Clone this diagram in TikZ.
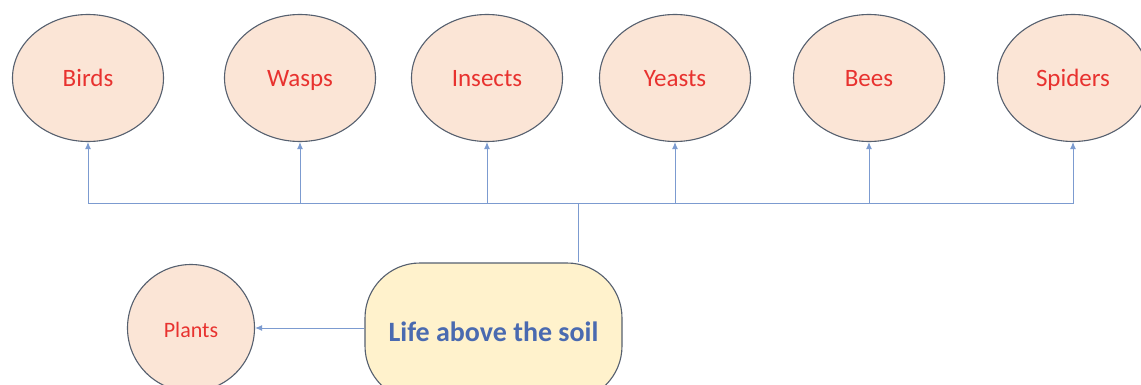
\documentclass[tikz,border=0pt]{standalone}
\usepackage{fontspec}
\setmainfont{Carlito}
\usetikzlibrary{arrows.meta,shapes.geometric}
\definecolor{peach}{HTML}{FBE5D6}
\definecolor{cream}{HTML}{FFF2CC}
\definecolor{rim}{HTML}{56606F}
\definecolor{wire}{HTML}{7C9BD0}
\definecolor{lifeblue}{HTML}{4A6AB0}
\definecolor{redtext}{HTML}{E8322F}

\begin{document}
\begin{tikzpicture}[x=1pt,y=-1pt,
  blob/.style={ellipse, draw=rim, fill=peach, line width=1.1pt, minimum width=151pt, minimum height=127pt, inner sep=0pt, text=redtext, text height=19pt, text depth=1pt, font=\fontsize{25}{30}\selectfont},
  link/.style={wire, line width=1pt, -{Latex[length=7pt,width=6pt]}}]
  \clip (0,0) rectangle (1141,385);
  \fill[white] (0,0) rectangle (1141,385);
  \node[blob] (birds) at (88,78) {Birds};
  \node[blob] (wasps) at (300,78) {Wasps};
  \node[blob] (insects) at (487,78) {Insects};
  \node[blob] (yeasts) at (675,78) {Yeasts};
  \node[blob] (bees) at (869,78) {Bees};
  \node[blob] (spiders) at (1073,78) {Spiders};
  \node[blob, minimum width=127pt, minimum height=127pt, font=\fontsize{22}{26}\selectfont] (plants) at (191,328) {Plants};
  \node[draw=rim, fill=cream, line width=1.1pt, rounded corners=55pt, minimum width=257pt, minimum height=138pt, text=lifeblue, font=\fontsize{28}{34}\selectfont\bfseries] (life) at (493.5,332) {Life above the soil};
  \coordinate (hub) at (578,203);
  \draw[wire, line width=1pt] (life.north -| hub) -- (hub);
  \foreach \n in {birds,wasps,insects,yeasts,bees,spiders}
    \draw[link] (hub) -| (\n.south);
  \draw[link] (life.west |- plants) -- (plants.east);
\end{tikzpicture}
\end{document}
